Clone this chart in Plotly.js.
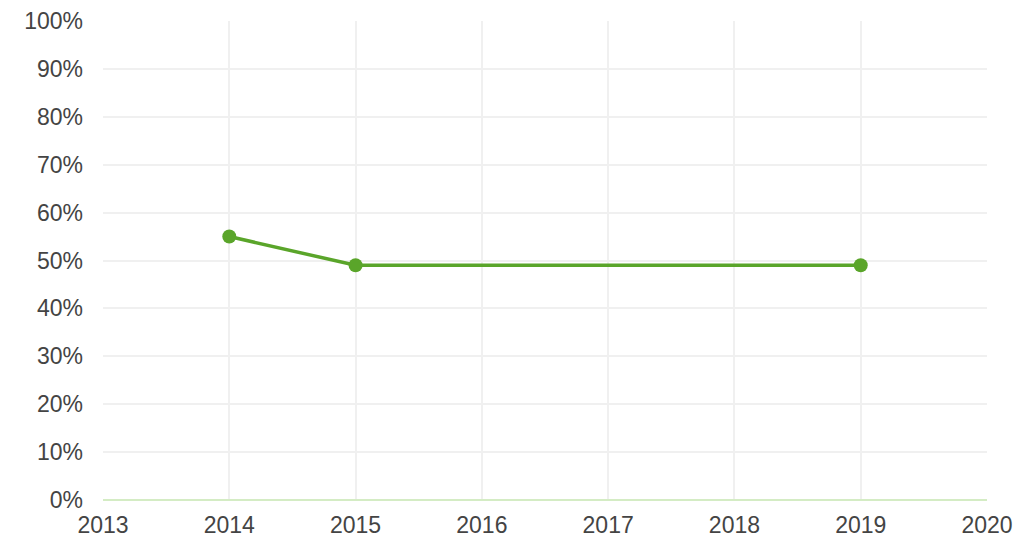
<!DOCTYPE html>
<html><head><meta charset="utf-8">
<script src="https://cdn.plot.ly/plotly-3.0.1.min.js"></script>
<style>html,body{margin:0;padding:0;background:#fff}#c{width:1035px;height:539px}</style>
</head><body><div id="c"></div>
<script>
const years = [2014, 2015, 2019];
const values = [55, 49, 49];
const xTicks = [2013, 2014, 2015, 2016, 2017, 2018, 2019, 2020];
const yTicks = [0,10,20,30,40,50,60,70,80,90,100];
const yTickLabels = yTicks.map(v => v + '%');

Plotly.newPlot('c', [{
  x: years, y: values, type: 'scatter', mode: 'lines+markers',
  line: {color: '#5aa52a', width: 3.5},
  marker: {color: '#5aa52a', size: 14},
  hoverinfo: 'x+y'
}], {
  width: 1035, height: 539,
  margin: {l: 103, r: 48, t: 21, b: 39},
  paper_bgcolor: '#fff', plot_bgcolor: '#fff',
  showlegend: false,
  font: {family: 'Liberation Sans, Arial, sans-serif', size: 23, color: '#444'},
  xaxis: {range: [2013, 2020], tickvals: xTicks, ticktext: xTicks.map(String),
    showgrid: true, gridcolor: '#f0f0f0', gridwidth: 1.5, zeroline: false,
    showline: false, ticks: '', ticklen: 0, ticklabelstandoff: 9, fixedrange: true},
  yaxis: {range: [0, 100], tickvals: yTicks, ticktext: yTickLabels,
    showgrid: true, gridcolor: '#f0f0f0', gridwidth: 1.5,
    zeroline: true, zerolinecolor: '#d4ecc4', zerolinewidth: 2,
    showline: false, ticks: '', ticklen: 0, ticklabelstandoff: 19, fixedrange: true}
}, {displayModeBar: false});
</script></body></html>
